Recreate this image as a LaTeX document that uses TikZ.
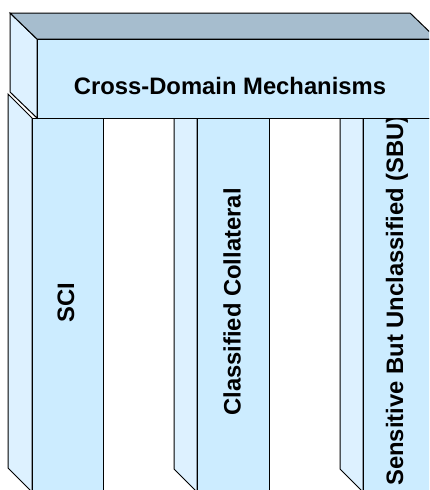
\documentclass[tikz,border=0pt]{standalone}
\usepackage{fontspec}
\setmainfont{Liberation Sans}
\definecolor{frontc}{RGB}{204,236,255}
\definecolor{sidec}{RGB}{221,241,255}
\definecolor{topc}{RGB}{166,189,206}
\tikzset{
  px/.style={x=1pt,y=-1pt},
  face/.style={draw=black,line width=1pt,line join=miter},
  lbl/.style={font=\fontsize{23.8}{28}\selectfont\bfseries,inner sep=0pt},
  vlbl/.style={lbl,rotate=90}
}
\begin{document}
\begin{tikzpicture}[px]
\useasboundingbox (0,0) rectangle (429,490);
\clip (0,0) rectangle (429,490);
\fill[white] (0,0) rectangle (429,490);
% pillar 1
\filldraw[face,fill=sidec] (8,94) -- (32,118) -- (32,492) -- (8,468) -- cycle;
\filldraw[face,fill=frontc] (32,118) rectangle (103,495);
\node[vlbl] (sci) at (66,303) {SCI};
% pillar 2
\filldraw[face,fill=sidec] (174,94) -- (197,118) -- (197,492) -- (174,469) -- cycle;
\filldraw[face,fill=frontc] (197,118) rectangle (269,495);
\node[vlbl] (cc) at (232,302) {Classified Collateral};
% pillar 3
\filldraw[face,fill=sidec] (340,94) -- (363,118) -- (363,492) -- (340,469) -- cycle;
\filldraw[face,fill=frontc] (363,118) rectangle (435,495);
\node[vlbl] (sbu) at (397,300.5) {Sensitive But Unclassified (SBU)};
% top box
\filldraw[face,fill=sidec] (10,13) -- (37,39) -- (37,118) -- (10,92) -- cycle;
\filldraw[face,fill=topc] (10,13) -- (410,13) -- (437,39) -- (37,39) -- cycle;
\filldraw[face,fill=frontc] (37,39) rectangle (437,118);
\node[lbl] (cdm) at (230,86) {Cross-Domain Mechanisms};
\end{tikzpicture}
\end{document}
